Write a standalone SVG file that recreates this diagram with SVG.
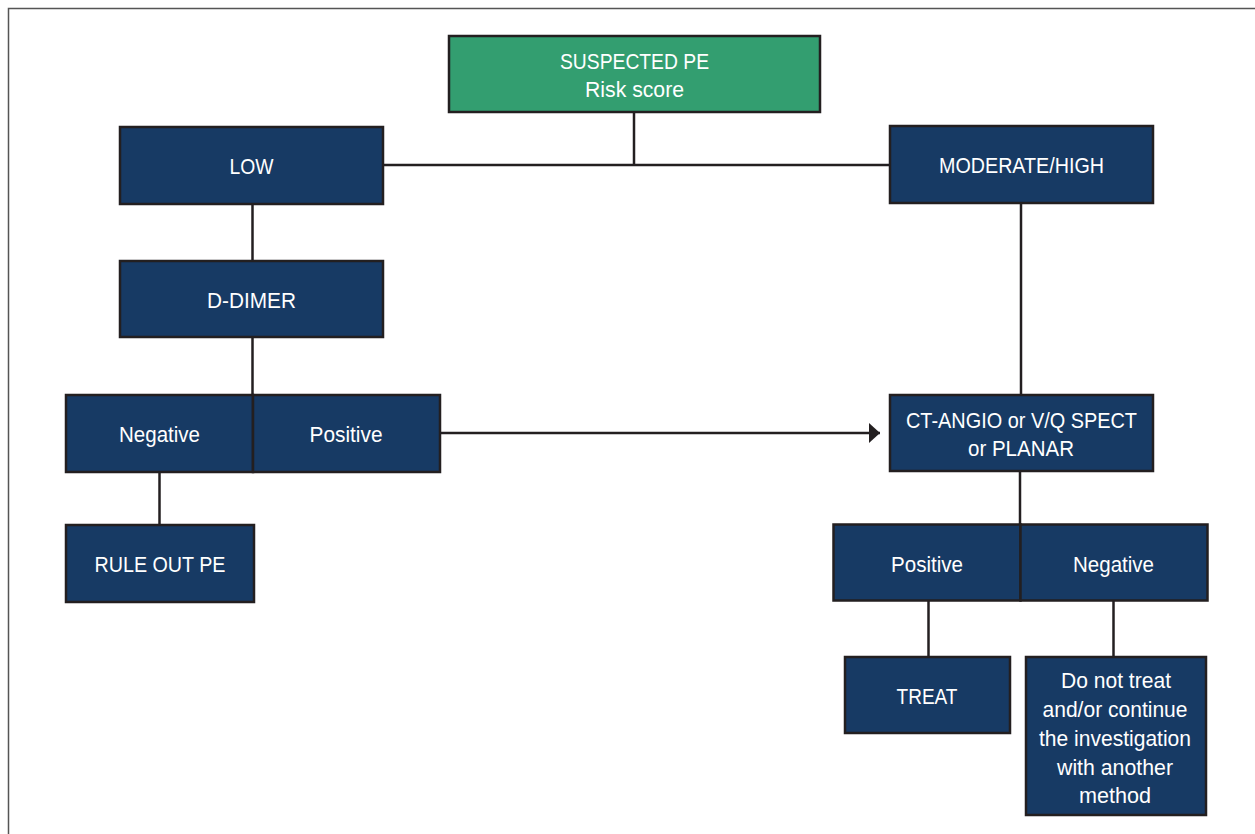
<svg xmlns="http://www.w3.org/2000/svg" width="1255" height="834" viewBox="0 0 1255 834">
<defs>
<style>
.box{fill:#173a64;stroke:#231f20;stroke-width:2.5}
.green{fill:#339e70;stroke:#231f20;stroke-width:2.5}
.t{font-family:"Liberation Sans",Arial,sans-serif;font-size:22px;fill:#ffffff;text-anchor:middle}
.c{stroke:#231f20;stroke-width:2.5;fill:none}
</style>
<marker id="arr" markerWidth="12" markerHeight="20" refX="11" refY="10" orient="auto" markerUnits="userSpaceOnUse">
<path d="M0,0 L11,10 L0,20 Z" fill="#231f20"/>
</marker>
</defs>
<rect x="0" y="0" width="1255" height="834" fill="#ffffff"/>
<path d="M8.5,834 V8.5 H1255" fill="none" stroke="#555555" stroke-width="1.5"/>
<g id="connectors">
<line class="c" x1="634" y1="112" x2="634" y2="165"/>
<line class="c" x1="383" y1="165" x2="890" y2="165"/>
<line class="c" x1="252.5" y1="204" x2="252.5" y2="261"/>
<line class="c" x1="252.5" y1="337" x2="252.5" y2="395"/>
<line class="c" x1="159.5" y1="472" x2="159.5" y2="525"/>
<line class="c" x1="440" y1="433" x2="880" y2="433" marker-end="url(#arr)"/>
<line class="c" x1="1021" y1="203" x2="1021" y2="395"/>
<line class="c" x1="1020" y1="471" x2="1020" y2="525"/>
<line class="c" x1="928.5" y1="601" x2="928.5" y2="657"/>
<line class="c" x1="1113.5" y1="601" x2="1113.5" y2="657"/>
</g>
<g id="suspected">
<rect class="green" x="449" y="36" width="371" height="76"/>
<text class="t" x="634.5" y="69" textLength="149" lengthAdjust="spacingAndGlyphs">SUSPECTED PE</text>
<text class="t" x="634.5" y="97" textLength="99" lengthAdjust="spacingAndGlyphs">Risk score</text>
</g>
<g id="low">
<rect class="box" x="120" y="127" width="263" height="77"/>
<text class="t" x="251.5" y="174" textLength="44" lengthAdjust="spacingAndGlyphs">LOW</text>
</g>
<g id="moderate">
<rect class="box" x="890" y="126" width="263" height="77"/>
<text class="t" x="1021.5" y="172.5" textLength="165" lengthAdjust="spacingAndGlyphs">MODERATE/HIGH</text>
</g>
<g id="ddimer">
<rect class="box" x="120" y="261" width="263" height="76"/>
<text class="t" x="251.5" y="307.5" textLength="89" lengthAdjust="spacingAndGlyphs">D-DIMER</text>
</g>
<g id="ddimer-result">
<rect class="box" x="66" y="395" width="187" height="77"/>
<rect class="box" x="253" y="395" width="187" height="77"/>
<text class="t" x="159.5" y="441.5" textLength="81" lengthAdjust="spacingAndGlyphs">Negative</text>
<text class="t" x="346" y="441.5" textLength="73" lengthAdjust="spacingAndGlyphs">Positive</text>
</g>
<g id="ruleout">
<rect class="box" x="66" y="525" width="188" height="77"/>
<text class="t" x="160" y="572" textLength="131" lengthAdjust="spacingAndGlyphs">RULE OUT PE</text>
</g>
<g id="ctangio">
<rect class="box" x="890" y="395" width="263" height="76"/>
<text class="t" x="1021.5" y="427.5" textLength="231" lengthAdjust="spacingAndGlyphs">CT-ANGIO or V/Q SPECT</text>
<text class="t" x="1021" y="456" textLength="106" lengthAdjust="spacingAndGlyphs">or PLANAR</text>
</g>
<g id="ct-result">
<rect class="box" x="833.5" y="524.5" width="187" height="76"/>
<rect class="box" x="1020.5" y="524.5" width="187" height="76"/>
<text class="t" x="927" y="572" textLength="72" lengthAdjust="spacingAndGlyphs">Positive</text>
<text class="t" x="1113.5" y="572" textLength="81" lengthAdjust="spacingAndGlyphs">Negative</text>
</g>
<g id="treat">
<rect class="box" x="845" y="657" width="165" height="76"/>
<text class="t" x="927" y="704" textLength="61" lengthAdjust="spacingAndGlyphs">TREAT</text>
</g>
<g id="donottreat">
<rect class="box" x="1026" y="657" width="180" height="158"/>
<text class="t" x="1116" y="687.5" textLength="110" lengthAdjust="spacingAndGlyphs">Do not treat</text>
<text class="t" x="1115" y="716.5" textLength="145" lengthAdjust="spacingAndGlyphs">and/or continue</text>
<text class="t" x="1115" y="745.5" textLength="152" lengthAdjust="spacingAndGlyphs">the investigation</text>
<text class="t" x="1115" y="774.5" textLength="116" lengthAdjust="spacingAndGlyphs">with another</text>
<text class="t" x="1115" y="803" textLength="72" lengthAdjust="spacingAndGlyphs">method</text>
</g>
</svg>
